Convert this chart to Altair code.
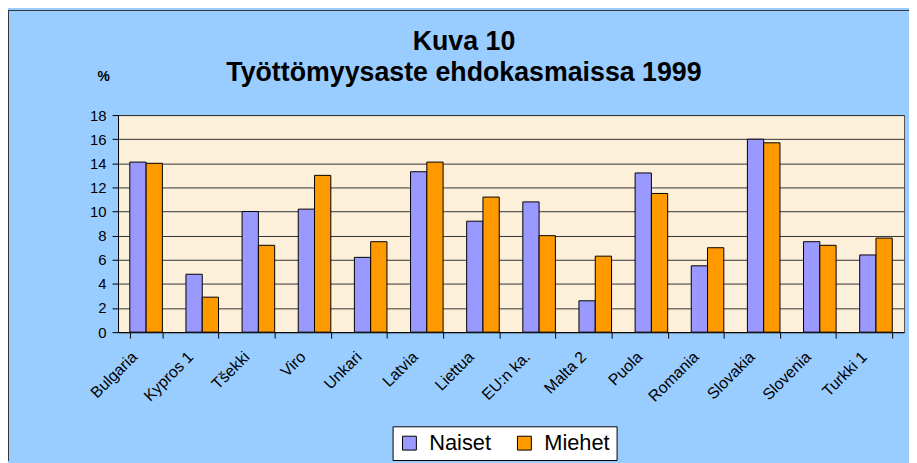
import altair as alt
import pandas as pd

categories = ["Bulgaria", "Kypros 1", "Tšekki", "Viro", "Unkari", "Latvia", "Liettua",
              "EU:n ka.", "Malta 2", "Puola", "Romania", "Slovakia", "Slovenia", "Turkki 1"]
naiset = [14.1, 4.8, 10.0, 10.2, 6.2, 13.3, 9.2, 10.8, 2.6, 13.2, 5.5, 16.0, 7.5, 6.4]
miehet = [14.0, 2.9, 7.2, 13.0, 7.5, 14.1, 11.2, 8.0, 6.3, 11.5, 7.0, 15.7, 7.2, 7.8]
series = ["Naiset", "Miehet"]
colors = ["#9999FF", "#FF9900"]
y_ticks = list(range(0, 19, 2))
title_line1 = "Kuva 10"
title_line2 = "Työttömyysaste ehdokasmaissa 1999"
y_unit = "%"

rows = []
for c, n, m in zip(categories, naiset, miehet):
    rows.append({"Maa": c, "Sukupuoli": "Naiset", "Arvo": n})
    rows.append({"Maa": c, "Sukupuoli": "Miehet", "Arvo": m})
df = pd.DataFrame(rows)

FONT = "Liberation Sans"

bars = alt.Chart(df).mark_bar(stroke="black", strokeWidth=1).encode(
    x=alt.X("Maa:N", sort=categories,
            scale=alt.Scale(paddingInner=0.42, paddingOuter=0.21),
            axis=alt.Axis(title=None, labelAngle=-45, labelAlign="right",
                          labelBaseline="middle", tickBand="extent",
                          labelFontSize=16, labelFont=FONT, labelColor="black",
                          domainColor="black", tickColor="black", tickSize=6,
                          labelPadding=16, labelOffset=-12, grid=False)),
    xOffset=alt.XOffset("Sukupuoli:N", sort=series,
                        scale=alt.Scale(paddingInner=0, paddingOuter=0)),
    y=alt.Y("Arvo:Q", scale=alt.Scale(domain=[0, 18]),
            axis=alt.Axis(values=y_ticks, title=None,
                          labelFontSize=15, labelFont=FONT, labelColor="black",
                          domainColor="black", tickColor="black", tickSize=6,
                          labelPadding=6, grid=True, gridColor="#333333",
                          gridWidth=1)),
    color=alt.Color("Sukupuoli:N", sort=series,
                    scale=alt.Scale(domain=series, range=colors),
                    legend=alt.Legend(title=None, orient="none", legendX=277,
                                      legendY=314, direction="horizontal",
                                      fillColor="white", strokeColor="black",
                                      padding=6, labelFontSize=22, labelFont=FONT,
                                      labelColor="black", symbolType="square",
                                      symbolSize=196, symbolStrokeColor="black",
                                      symbolStrokeWidth=1, columnPadding=22,
                                      labelOffset=9)),
)

one = alt.Data(values=[{}])

t1 = alt.Chart(one).mark_text(font=FONT, fontSize=27, fontWeight="bold",
                              color="black", align="center", baseline="alphabetic").encode(
    x=alt.value(349), y=alt.value(-66), text=alt.value(title_line1))
t2 = alt.Chart(one).mark_text(font=FONT, fontSize=27, fontWeight="bold",
                              color="black", align="center", baseline="alphabetic").encode(
    x=alt.value(349), y=alt.value(-34), text=alt.value(title_line2))
t3 = alt.Chart(one).mark_text(font=FONT, fontSize=14, fontWeight="bold",
                              color="black", align="center", baseline="alphabetic").encode(
    x=alt.value(-14.5), y=alt.value(-34), text=alt.value(y_unit))

frame_v = alt.Chart(one).mark_rule(color="#333333", strokeWidth=1).encode(
    x=alt.value(-110.5), y=alt.value(-105.5), y2=alt.value(349))
frame_h = alt.Chart(one).mark_rule(color="#333333", strokeWidth=1).encode(
    x=alt.value(-111), x2=alt.value(798), y=alt.value(-105.5))

chart = alt.layer(bars, t1, t2, t3, frame_v, frame_h).properties(
    width=793, height=219,
    autosize=alt.AutoSizeParams(type="none"),
    padding={"left": 111, "top": 106, "right": 5, "bottom": 130},
).configure(background="#99CCFF").configure_view(
    fill="#FCF0DA", stroke="#555555", strokeWidth=1)

chart.save("out.html", embed_options={"renderer": "svg", "actions": False})
